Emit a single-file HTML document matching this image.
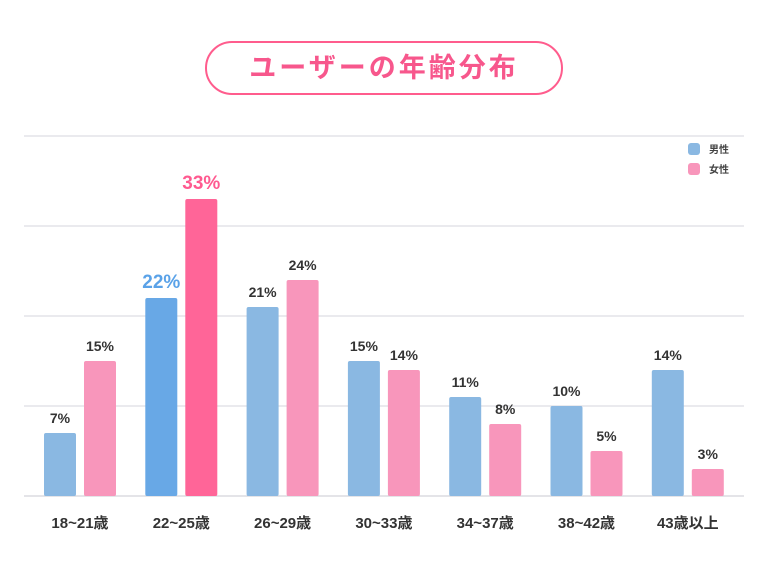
<!DOCTYPE html>
<html><head><meta charset="utf-8"><style>
body{margin:0;background:#fff;font-family:"Liberation Sans","Noto Sans CJK JP",sans-serif;}
#wrap{position:relative;width:768px;height:577px;overflow:hidden;}
#title{position:absolute;left:205px;top:41px;width:354px;height:50px;border:2px solid #ff5c8d;border-radius:27px;color:#f7578c;font-size:27px;font-weight:bold;text-align:center;line-height:50px;letter-spacing:3px;}
</style></head><body>
<div id="wrap">
<div id="title">ユーザーの年齢分布</div>
<svg id="svg" width="768" height="577" style="position:absolute;left:0;top:0"></svg>
</div>
<script>
const categories=["18~21歳","22~25歳","26~29歳","30~33歳","34~37歳","38~42歳","43歳以上"];
const maleValues=[7,22,21,15,11,10,14];
const femaleValues=[15,33,24,14,8,5,3];
const gridTicks=[0,10,20,30,40];
const highlightIndex=1;
const NS="http://www.w3.org/2000/svg";
const svg=document.getElementById('svg');
const base=496,perUnit=9;
const y=v=>base-v*perUnit;
const gx=i=>44+i*101.3;
function mk(t,a){const e=document.createElementNS(NS,t);for(const k in a)e.setAttribute(k,a[k]);svg.appendChild(e);return e;}
gridTicks.forEach(t=>{const l=mk('line',{x1:24,x2:744,y1:y(t),y2:y(t),stroke:t===0?'#c8c8d0':'#d4d4dc','stroke-width':1});

});
categories.forEach((c,i)=>{
 const hi=i===highlightIndex;
 [[maleValues[i],0,hi?'#68a8e6':'#8ab8e2',hi?'#5aa2e8':'#333'],[femaleValues[i],40,hi?'#ff6598':'#f896bb',hi?'#ff5a90':'#333']].forEach(([v,off,col,tc],k)=>{
  const x=gx(i)+off;
  const r=mk('rect',{x:x,y:y(v),width:32,height:v*perUnit,rx:2,fill:col});
  
  
  const t=mk('text',{x:x+16,y:y(v)-10,'text-anchor':'middle','font-size':hi?19:14,'font-weight':'bold',fill:tc});
  t.textContent=v+'%';
  
  
 });
 const l=mk('text',{x:gx(i)+36,y:528,'text-anchor':'middle','font-size':15,'font-weight':'bold',fill:'#333'});
 l.textContent=c;
 
 
});
[['男性','#8ab8e2',143],['女性','#f896bb',163]].forEach(([n,c,yy])=>{
 const r=mk('rect',{x:688,y:yy,width:12,height:12,rx:3,fill:c});
 
 
 const t=mk('text',{x:709,y:yy+10,'font-size':10,'font-weight':'bold',fill:'#444'});
 t.textContent=n;
 
 
});
</script>
</body></html>
